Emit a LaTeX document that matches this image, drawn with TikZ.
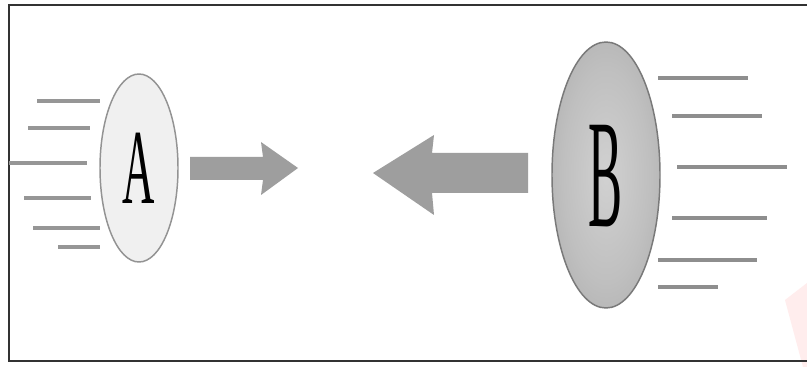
\documentclass[tikz,border=0pt]{standalone}
\usepackage{fontspec}
\setmainfont{Liberation Serif}
\usetikzlibrary{shapes.geometric}
\definecolor{linegray}{RGB}{150,150,150}
\definecolor{arrowgray}{RGB}{158,158,158}
\definecolor{framegray}{RGB}{50,50,50}
\pgfdeclareradialshading{bshade}{\pgfpoint{0bp}{0bp}}{%
  color(0bp)=(black!18);
  color(20bp)=(black!25);
  color(40bp)=(black!35);
  color(50bp)=(black!45)}
\tikzset{
  wind/.style={draw=linegray, line width=2.4pt},
  windB/.style={draw=linegray!95!black, line width=2.8pt},
  bigarrow/.style={fill=arrowgray, draw=none},
  bodyA/.style={ellipse, draw=gray!85, line width=1.1pt, fill=gray!12, minimum width=78*0.75pt, minimum height=188*0.75pt, inner sep=0pt},
  bodyB/.style={ellipse, draw=gray!105, line width=1.1pt, shading=bshade, minimum width=108*0.75pt, minimum height=266*0.75pt, inner sep=0pt},
}
\begin{document}
\begin{tikzpicture}[x=0.75pt,y=-0.75pt]
\useasboundingbox (0,0) rectangle (807,367);
\fill[white] (0,0) rectangle (807,367);
% watermark
\fill[red!7] (785,300) -- (807,283) -- (807,367) -- (803,367) -- cycle;
% frame
\draw[framegray, line width=1.6pt] (820,5) -- (9,5) -- (9,361) -- (820,361);
% wind lines behind A
\draw[wind] (37,101) -- (100,101);
\draw[wind] (28,128) -- (90,128);
\draw[wind] (9,163) -- (87,163);
\draw[wind] (24,198) -- (91,198);
\draw[wind] (33,228) -- (100,228);
\draw[wind] (58,247) -- (100,247);
% body A
\node[bodyA] (A) at (139,168) {};
\node at (A.center) {\scalebox{0.42}[1]{\fontsize{80}{80}\selectfont A}};
% arrow from A
\fill[bigarrow] (190,157) -- (263,157) -- (261,142) -- (298,168) -- (261,195) -- (263,180) -- (190,180) -- cycle;
% arrow from B
\fill[bigarrow] (528,153) -- (432,153) -- (434,135) -- (373,173) -- (434,215) -- (432,193) -- (528,193) -- cycle;
% body B
\node[bodyB] (B) at (606,175) {};
\node at ([yshift=-1pt]B.center) {\scalebox{0.33}[1]{\fontsize{116}{116}\selectfont B}};
% wind lines behind B
\draw[windB] (658,78) -- (748,78);
\draw[windB] (672,116) -- (762,116);
\draw[windB] (677,167) -- (787,167);
\draw[windB] (672,218) -- (767,218);
\draw[windB] (658,260) -- (757,260);
\draw[windB] (658,287) -- (718,287);
\end{tikzpicture}
\end{document}
